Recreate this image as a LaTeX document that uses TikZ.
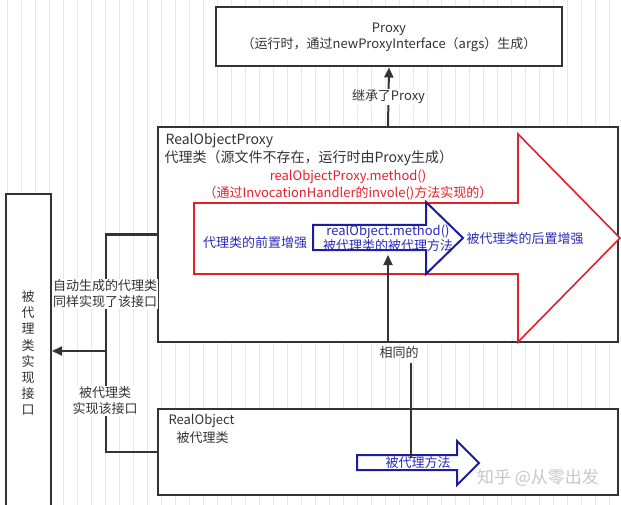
\documentclass[tikz,border=0pt]{standalone}
\usepackage{fontspec}
\setmainfont{Noto Sans CJK SC}
\usetikzlibrary{arrows.meta,calc}

\definecolor{boxc}{HTML}{333333}
\definecolor{redc}{HTML}{E3202A}
\definecolor{navyc}{HTML}{1C1C9C}
\definecolor{bluet}{HTML}{2B2BB8}

\newcommand*{\wide}{621}
\newcommand*{\high}{505}

\begin{document}
\begin{tikzpicture}
[
	x=1pt,
	y=-1pt,
	font=\fontsize{13}{16}\selectfont,
	text=boxc,
	box/.style={draw=boxc,line width=2pt,fill=white,inner sep=0pt},
	conn/.style={draw=boxc,line width=2pt},
	tip/.style={-{Triangle[length=10pt,width=9pt]}},
	lbl/.style={fill=white,inner sep=1pt,align=center},
	gridline/.style={draw=black!9,line width=0.5pt},
	redarrow/.style={draw=redc,line width=1.6pt,fill=white,line join=miter},
	bluearrow/.style={draw=navyc,line width=2pt,fill=white,line join=miter}
]

	\useasboundingbox (0,0) rectangle (\wide,\high);
	\clip (0,0) rectangle (\wide,\high);

	% background grid
	\draw[gridline,step=14,shift={(7,12)}] (-7,-12) grid (\wide,\high);

	% boxes
	\node[box,minimum width=346,minimum height=59,align=center] (proxy) at (389,37)
	  {Proxy\\（运行时，通过newProxyInterface（args）生成）};
	\node[box,minimum width=460,minimum height=215] (rop) at (388,234.5) {};
	\node[box,minimum width=460,minimum height=86] (real) at (388,452) {};
	\node[box,minimum width=45,minimum height=330] (iface) at (28.5,359) {};
	\node[align=center,font=\fontsize{13}{16.2}\selectfont] (ifacetxt) at (28,353)
	  {被\\代\\理\\类\\实\\现\\接\\口};

	% titles
	\node[anchor=west,font=\fontsize{14}{16}\selectfont] (roptitle) at (162,141) {RealObjectProxy};
	\node[anchor=west,font=\fontsize{14}{16}\selectfont] (ropsub) at (161,158) {代理类（源文件不存在，运行时由Proxy生成）};
	\node[anchor=west] (realtitle) at (165,421) {RealObject};
	\node[anchor=west] (realsub) at (173,438) {被代理类};

	% red arrow
	\draw[redarrow] (194,203) -- (518,203) -- (518,134) -- (620,238)
	  -- (518,342) -- (518,274) -- (194,274) -- cycle;
	\node[text=redc] (call) at (348,177) {realObjectProxy.method()};
	\node[text=redc] (callby) at (348,193) {（通过InvocationHandler的invole()方法实现的）};
	\node[text=bluet] (before) at (255,243) {代理类的前置增强};
	\node[text=bluet] (after) at (525,239) {被代理类的后置增强};

	% blue arrow in proxy
	\draw[bluearrow] (313,225) -- (426,225) -- (426,202) -- (463,238)
	  -- (426,274) -- (426,250) -- (313,250) -- cycle;
	\node[text=bluet,align=center,font=\fontsize{13}{15.5}\selectfont] (inner) at (388,238)
	  {realObject.method()\\被代理类的被代理方法};
	\coordinate (innerbot) at (388,255);

	% blue arrow in real object
	\draw[bluearrow] (357,455) -- (457,455) -- (457,441) -- (479,463)
	  -- (457,485) -- (457,470) -- (357,470) -- cycle;
	\coordinate (smallin) at (411,458);

	% connectors
	\draw[conn,tip] (rop.north) -- (proxy.south)
	  node[lbl,midway] (inherit) {继承了Proxy};
	\draw[conn,tip] (rop.south) -- (innerbot);
	\node (same) at (399,353) {相同的};
	\draw[conn,line width=1.6pt] (same.south -| smallin) -- (smallin);
	\node[text=bluet] (method) at (418,463) {被代理方法};

	\coordinate (join) at (106,351);
	\draw[conn] (rop.west) -| (join) |- (real.west);
	\draw[conn,tip] (join) -- (join -| iface.east);
	\node[lbl] (auto) at (105,294) {自动生成的代理类\\同样实现了该接口};
	\node[lbl] (impl) at (105,401) {被代理类\\实现该接口};

	% watermark
	\node[text=black!22,font=\fontsize{17}{20}\selectfont] (mark) at (538,478) {知乎 @从零出发};

\end{tikzpicture}
\end{document}
